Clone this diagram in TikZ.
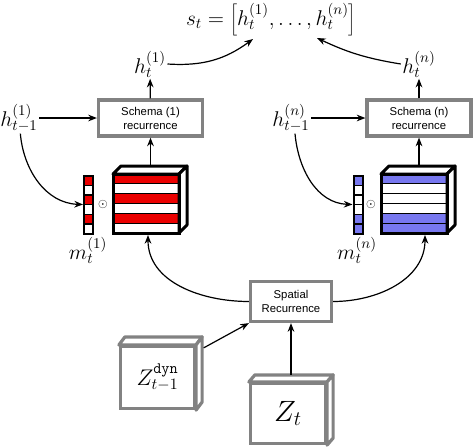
\documentclass[tikz,border=0pt]{standalone}
\usepackage{fix-cm}
\usepackage{fontspec}
\setsansfont{Liberation Sans}
\usetikzlibrary{arrows.meta,calc}
\definecolor{boxgray}{RGB}{130,130,130}
\definecolor{mblue}{RGB}{120,120,240}
\definecolor{mred}{RGB}{235,0,0}
\begin{document}
\begin{tikzpicture}[x=0.75pt,y=0.75pt,
  arr/.style={-{Stealth[length=6.5pt,width=5pt]}, line width=0.9pt},
  graybox/.style={draw=boxgray, line width=2.4pt, fill=white, minimum width=78pt, minimum height=27pt,
    font=\sffamily\fontsize{8.5}{10.5}\selectfont, align=center, inner sep=0pt},
  lab/.style={font=\fontsize{16}{18}\selectfont, inner sep=1pt},
  zbox/.style={draw=boxgray, line width=2.4pt, fill=white, inner sep=0pt},
  zface/.style={draw=boxgray, line width=2.4pt, fill=white, line join=round},
  tface/.style={draw=black, line width=2.25pt, fill=white, line join=round},
  tfront/.style={draw=black, line width=2.25pt, minimum width=49.5pt, minimum height=44.25pt, inner sep=0pt},
  stripe/.style={draw=black, line width=0.7pt},
  cell/.style={draw=black, line width=1pt},
  maskbox/.style={draw=black, line width=1.5pt, minimum width=6.75pt, minimum height=43.5pt, inner sep=0pt},
  odotn/.style={font=\fontsize{9}{9}\selectfont, inner sep=0pt},
  ]
\useasboundingbox (0,0) rectangle (474,-447);

% equation
\node[font=\fontsize{16}{18}\selectfont, inner sep=0pt] (eq) at (271,-19.5) {$s_t=\left[h_t^{(1)},\ldots,h_t^{(n)}\right]$};
\coordinate (eqL) at (253,-39);
\coordinate (eqR) at (317,-38);

% schema boxes
\node[graybox] (s1) at (150.5,-118) {Schema (1)\\recurrence};
\node[graybox] (sn) at (419,-118) {Schema (n)\\recurrence};

% h labels
\node[lab] (h1) at (150,-64) {$h_t^{(1)}$};
\node[lab] (hn) at (419,-64) {$h_t^{(n)}$};
\node[lab] (hp1) at (19,-118) {$h_{t-1}^{(1)}$};
\node[lab] (hpn) at (291,-118) {$h_{t-1}^{(n)}$};

% tensor 1
\foreach \c [count=\i from 0] in {mred,white,mred,white,mred,white}
  \filldraw[stripe, fill=\c] (113,{-174-\i*9.833}) rectangle (179,{-174-(\i+1)*9.833});
\draw[tface] (113,-174) -- (121,-166) -- (187,-166) -- (179,-174) -- cycle;
\draw[tface] (179,-174) -- (187,-166) -- (187,-225) -- (179,-233) -- cycle;
\node[tfront] (t1) at (146,-203.5) {};
\coordinate (t1top) at (150.5,-166);
\coordinate (t1bot) at (148,-235);

% tensor n
\foreach \c [count=\i from 0] in {mblue,white,white,white,mblue,mblue}
  \filldraw[stripe, fill=\c] (381,{-174-\i*9.833}) rectangle (447,{-174-(\i+1)*9.833});
\draw[tface] (381,-174) -- (389,-166) -- (455,-166) -- (447,-174) -- cycle;
\draw[tface] (447,-174) -- (455,-166) -- (455,-225) -- (447,-233) -- cycle;
\node[tfront] (tn) at (414,-203.5) {};
\coordinate (tntop) at (419,-166);
\coordinate (tnbot) at (425,-235);

% masks
\foreach \c [count=\i from 0] in {mred,white,mred,white,mred,white}
  \filldraw[cell, fill=\c] (84,{-175.5-\i*9.667}) rectangle (93,{-175.5-(\i+1)*9.667});
\node[maskbox] (m1box) at (88.5,-204.5) {};
\foreach \c [count=\i from 0] in {mblue,white,white,white,mblue,mblue}
  \filldraw[cell, fill=\c] (353.5,{-175.5-\i*9.667}) rectangle (362.5,{-175.5-(\i+1)*9.667});
\node[maskbox] (mnbox) at (358,-204.5) {};

\node[odotn] (o1) at (103,-204) {$\odot$};
\node[odotn] (on) at (371,-204) {$\odot$};
\node[lab] (m1) at (88,-250) {$m_t^{(1)}$};
\node[lab] (mn) at (357,-250) {$m_t^{(n)}$};

% spatial recurrence
\node[graybox, minimum width=60.75pt, minimum height=30pt] (sp) at (291,-301.5) {Spatial\\Recurrence};

% Z boxes
\node[zbox, minimum width=55.5pt, minimum height=46.5pt, font=\fontsize{17}{19}\selectfont] (zd) at (157.5,-377.5) {$Z^{\mathtt{dyn}}_{t-1}$};
\draw[zface] (zd.north west) -- ++(6,8) -- ($(zd.north east)+(6,8)$) -- (zd.north east) -- cycle;
\draw[zface] (zd.north east) -- ++(6,8) -- ($(zd.south east)+(6,8)$) -- (zd.south east) -- cycle;
\node[zbox, minimum width=56.25pt, minimum height=45pt, font=\fontsize{22}{24}\selectfont] (zt) at (288,-413.5) {$Z_t$};
\draw[zface] (zt.north west) -- ++(6,7) -- ($(zt.north east)+(6,7)$) -- (zt.north east) -- cycle;
\draw[zface] (zt.north east) -- ++(6,7) -- ($(zt.south east)+(6,7)$) -- (zt.south east) -- cycle;
\coordinate (zdout) at ($(zd.north east)+(7.5,-3)$);
\coordinate (ztop) at ($(zt.north)+(3,7)$);

% connectors
\draw[arr] (h1.east) to[bend right=20] (eqL);
\draw[arr] (hn.west) to[bend left=8] (eqR);
\draw[arr] (s1) -- (h1);
\draw[arr] (sn) -- (hn);
\draw[arr] (hp1.east) -- (s1.west);
\draw[arr] (hpn.east) -- (sn.west);
\draw[arr] ([xshift=1pt]hp1.south) to[out=-85, in=178] (m1box.west);
\draw[arr] ([xshift=3pt]hpn.south) to[out=-85, in=178] (mnbox.west);
\draw[arr] (t1top) -- (t1top |- s1.south);
\draw[arr] (tntop) -- (tntop |- sn.south);
\draw[arr] (sp.west) to[out=180, in=-90] (t1bot);
\draw[arr] (sp.east) to[out=0, in=-90] (tnbot);
\draw[arr] (zdout) -- (sp.south west);
\draw[arr] (ztop) -- (ztop |- sp.south);
\end{tikzpicture}
\end{document}
